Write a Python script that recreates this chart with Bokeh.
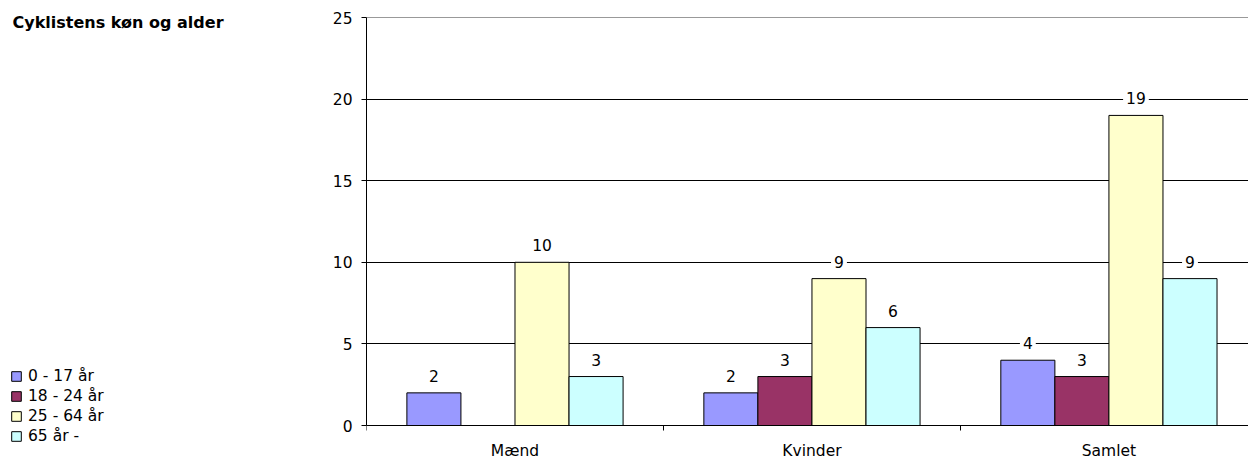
from bokeh.plotting import figure
from bokeh.layouts import row
from bokeh.models import ColumnDataSource, FixedTicker, Legend, LegendItem, Label, Range1d, Grid
from bokeh.embed import file_html
from bokeh.resources import INLINE
from bokeh.core.properties import value

title = "Cyklistens køn og alder"
categories = ["Mænd", "Kvinder", "Samlet"]
series = ["0 - 17 år", "18 - 24 år", "25 - 64 år", "65 år -"]
age_0_17 = [2, 2, 4]
age_18_24 = [None, 3, 3]
age_25_64 = [10, 9, 19]
age_65 = [3, 6, 9]
colors = ["#9999FF", "#993366", "#FFFFCC", "#CCFFFF"]
y_ticks = [0, 5, 10, 15, 20, 25]

FONT = "DejaVu Sans"
FS = "15.5px"
bar_w = 0.182

# page layout (pixels): value 25 at y=17, value 0 at y=425, canvas height 460
H = 460
TOP_PX, ZERO_PX = 17, 425
ppu = (ZERO_PX - TOP_PX) / y_ticks[-1]
y_lo = -(H - ZERO_PX) / ppu
y_hi = y_ticks[-1] + TOP_PX / ppu

# ---- main chart ----
p = figure(width=922, height=H, output_backend="svg", toolbar_location=None,
           x_range=Range1d(0, 2.97), y_range=Range1d(y_lo, y_hi),
           min_border_left=40, min_border_right=0, min_border_top=0, min_border_bottom=0)
p.outline_line_color = None

sources = []
for j, (vals, col) in enumerate(zip([age_0_17, age_18_24, age_25_64, age_65], colors)):
    xs = [i + 0.5 + (j - 1.5) * bar_w for i in range(len(categories))]
    tops = [float("nan") if v is None else v for v in vals]
    labels = ["" if v is None else str(v) for v in vals]
    src = ColumnDataSource(dict(x=xs, top=tops, label=labels))
    sources.append(src)
    p.vbar(x="x", top="top", width=bar_w, bottom=0, source=src,
           fill_color=col, line_color="black", line_width=1)
    p.text(x="x", y="top", text="label", source=src, y_offset=-17,
           text_align="center", text_baseline="middle",
           text_font=value(FONT), text_font_size=FS, text_color="black",
           background_fill_color="white", padding=3)

p.yaxis.ticker = FixedTicker(ticks=y_ticks)
p.yaxis.bounds = (y_ticks[0], y_ticks[-1])
p.yaxis.major_tick_in = 0
p.yaxis.major_tick_out = 5
p.yaxis.minor_tick_out = 0
p.yaxis.minor_tick_in = 0
p.yaxis.major_label_standoff = 9
p.yaxis.axis_line_color = "black"
p.yaxis.major_tick_line_color = "black"
p.yaxis.major_label_text_font = FONT
p.yaxis.major_label_text_font_size = FS
p.yaxis.major_label_text_color = "black"

p.xaxis.fixed_location = 0
p.xaxis.ticker = FixedTicker(ticks=[i + 0.5 for i in range(len(categories))],
                             minor_ticks=list(range(len(categories) + 1)))
p.xaxis.major_label_overrides = {i + 0.5: c for i, c in enumerate(categories)}
p.xaxis.major_tick_in = 0
p.xaxis.major_tick_out = 0
p.xaxis.minor_tick_in = 0
p.xaxis.minor_tick_out = 5
p.xaxis.minor_tick_line_color = "black"
p.xaxis.axis_line_color = "black"
p.xaxis.major_label_standoff = 11
p.xaxis.major_label_text_font = FONT
p.xaxis.major_label_text_font_size = FS
p.xaxis.major_label_text_color = "black"

p.xgrid.grid_line_color = None
p.ygrid.ticker = FixedTicker(ticks=y_ticks[:-1])
p.ygrid.grid_line_color = "black"
p.ygrid.grid_line_width = 1
p.add_layout(Grid(dimension=1, ticker=FixedTicker(ticks=y_ticks[-1:]),
                  grid_line_color="#999999", grid_line_width=1))

# ---- left panel: title and legend ----
left = figure(width=326, height=H, output_backend="svg", toolbar_location=None,
              x_range=Range1d(0, 326), y_range=Range1d(H, 0),
              min_border_left=0, min_border_right=0, min_border_top=0, min_border_bottom=0,
              x_axis_type=None, y_axis_type=None)
left.outline_line_color = None
left.grid.visible = False

items = []
for name, col, src in zip(series, colors, sources):
    r = left.vbar(x="x", top="top", width=bar_w, bottom=0, source=src,
                  fill_color=col, line_color="black", line_width=1, visible=False)
    items.append(LegendItem(label=name, renderers=[r]))

legend = Legend(items=items, location=(10, 14), orientation="vertical",
                glyph_width=12, glyph_height=12, label_height=20, spacing=0,
                padding=0, margin=0, label_standoff=6, border_line_color=None,
                background_fill_alpha=0, inactive_fill_alpha=0,
                label_text_font=FONT, label_text_font_size=FS, label_text_color="black",
                label_text_baseline="middle")
left.add_layout(legend, "center")

left.add_layout(Label(x=12, y=22, text=title,
                      text_font=FONT, text_font_size="16px", text_font_style="bold",
                      text_baseline="middle", text_color="black"))

layout = row(left, p)
open("out.html", "w").write(file_html(layout, INLINE))
